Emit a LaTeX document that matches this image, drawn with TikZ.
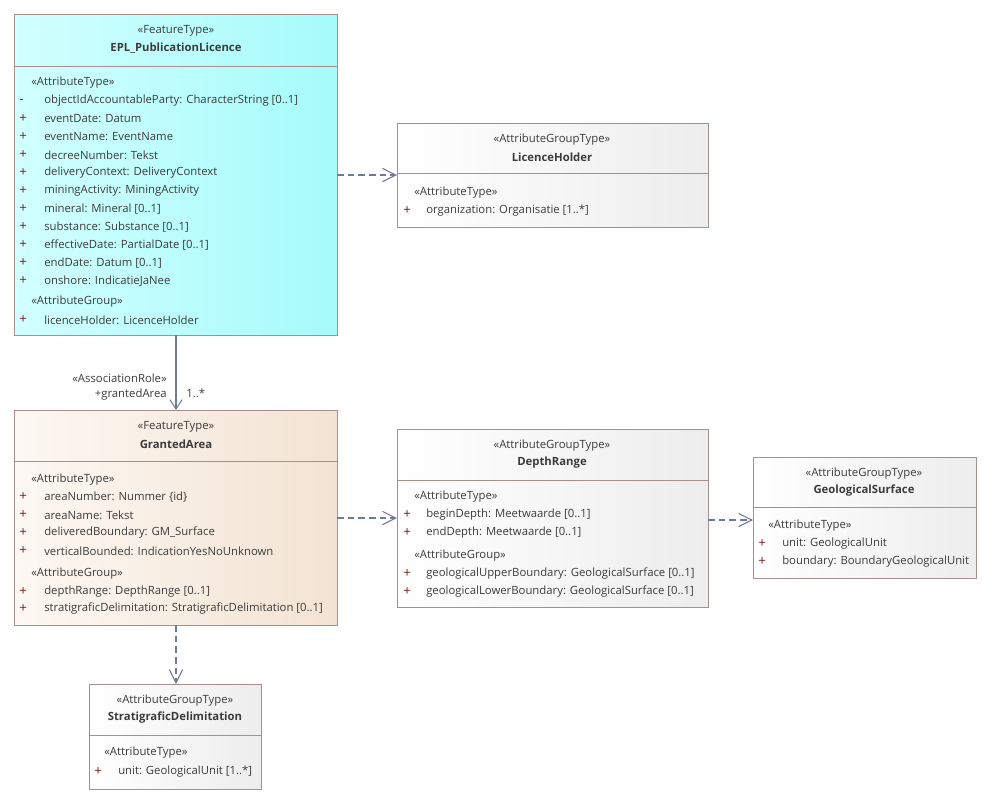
\documentclass[tikz,border=0pt]{standalone}
\usepackage{fontspec}
\setmainfont{Open Sans}
\usetikzlibrary{arrows.meta,positioning}
\definecolor{umlborder}{HTML}{A88E8E}
\definecolor{umltext}{HTML}{3C3C3C}
\definecolor{umlplus}{HTML}{7A1E1E}
\definecolor{umlline}{HTML}{707A96}
\definecolor{cyanA}{HTML}{D2FFFF}
\definecolor{cyanB}{HTML}{A6FBFB}
\definecolor{peachA}{HTML}{FDF8F3}
\definecolor{peachB}{HTML}{F3E3D3}
\tikzset{
  umlbox/.style={draw=umlborder,line width=0.7pt},
  stereo/.style={font=\fontsize{8.5}{10}\selectfont,text=umltext,inner sep=0pt},
  cname/.style={font=\fontsize{8.5}{10}\selectfont\bfseries,text=umltext,inner sep=0pt},
  attr/.style={font=\fontsize{8.5}{10}\selectfont,text=umltext,anchor=west,inner sep=0pt},
  vis/.style={font=\fontsize{10}{10}\selectfont,text=umlplus,anchor=west,inner sep=0pt},
  dep/.style={draw=umlline,line width=0.8pt,dashed,dash pattern=on 5pt off 3pt,-{Straight Barb[length=10pt,width=10pt]}},
  assoc/.style={draw=umlline,line width=0.8pt,-{Straight Barb[length=7pt,width=9pt]}}
}
\begin{document}
\begin{tikzpicture}[x=0.75pt,y=-0.75pt]
\useasboundingbox (0,0) rectangle (994,804);

% EPL_PublicationLicence
\shade[left color=cyanA,right color=cyanB] (14,14) rectangle (337,335);
\draw[umlbox] (14,14) rectangle (337,335);
\draw[umlbox] (14,66) -- (337,66);
\coordinate (epl-s) at (176,335);
\coordinate (epl-e) at (337,175);
\node[stereo] (epl-st) at (176,31) {«FeatureType»};
\node[cname] (epl-n) at (176,48) {EPL\_PublicationLicence};
\node[attr] at (31,83) {«AttributeType»};
\node[vis] at (19,101) {-};  \node[attr] at (44,101) {objectIdAccountableParty: CharacterString [0..1]};
\node[vis] at (19,119) {+};  \node[attr] at (44,119) {eventDate: Datum};
\node[vis] at (19,137) {+};  \node[attr] at (44,137) {eventName: EventName};
\node[vis] at (19,155) {+};  \node[attr] at (44,155) {decreeNumber: Tekst};
\node[vis] at (19,173) {+};  \node[attr] at (44,173) {deliveryContext: DeliveryContext};
\node[vis] at (19,191) {+};  \node[attr] at (44,191) {miningActivity: MiningActivity};
\node[vis] at (19,209) {+};  \node[attr] at (44,209) {mineral: Mineral [0..1]};
\node[vis] at (19,227) {+};  \node[attr] at (44,227) {substance: Substance [0..1]};
\node[vis] at (19,245) {+};  \node[attr] at (44,245) {effectiveDate: PartialDate [0..1]};
\node[vis] at (19,263) {+};  \node[attr] at (44,263) {endDate: Datum [0..1]};
\node[vis] at (19,281) {+};  \node[attr] at (44,281) {onshore: IndicatieJaNee};
\node[attr] at (31,302) {«AttributeGroup»};
\node[vis] at (19,320) {+};  \node[attr] at (44,320) {licenceHolder: LicenceHolder};

% LicenceHolder
\shade[left color=white,right color=black!7] (397,123) rectangle (708,227);
\draw[umlbox] (397,123) rectangle (708,227);
\draw[umlbox] (397,173) -- (708,173);
\coordinate (lh-w) at (397,175);
\node[stereo] at (552,140) {«AttributeGroupType»};
\node[cname] at (552,157) {LicenceHolder};
\node[attr] at (414,193) {«AttributeType»};
\node[vis] at (403,211) {+};  \node[attr] at (426,211) {organization: Organisatie [1..*]};

% GrantedArea
\shade[left color=peachA,right color=peachB] (14,410) rectangle (337,625);
\draw[umlbox] (14,410) rectangle (337,625);
\draw[umlbox] (14,461) -- (337,461);
\coordinate (ga-n) at (176,410);
\coordinate (ga-e) at (337,518);
\coordinate (ga-s) at (176,625);
\node[stereo] at (176,427) {«FeatureType»};
\node[cname] at (176,444) {GrantedArea};
\node[attr] at (31,480) {«AttributeType»};
\node[vis] at (19,497) {+};  \node[attr] at (44,497) {areaNumber: Nummer \{id\}};
\node[vis] at (19,515) {+};  \node[attr] at (44,515) {areaName: Tekst};
\node[vis] at (19,533) {+};  \node[attr] at (44,533) {deliveredBoundary: GM\_Surface};
\node[vis] at (19,551) {+};  \node[attr] at (44,551) {verticalBounded: IndicationYesNoUnknown};
\node[attr] at (31,574) {«AttributeGroup»};
\node[vis] at (19,592) {+};  \node[attr] at (44,592) {depthRange: DepthRange [0..1]};
\node[vis] at (19,609) {+};  \node[attr] at (44,609) {stratigraficDelimitation: StratigraficDelimitation [0..1]};

% DepthRange
\shade[left color=white,right color=black!7] (397,429) rectangle (708,607);
\draw[umlbox] (397,429) rectangle (708,607);
\draw[umlbox] (397,480) -- (708,480);
\coordinate (dr-w) at (397,518);
\coordinate (dr-e) at (708,520);
\node[stereo] at (552,446) {«AttributeGroupType»};
\node[cname] at (552,463) {DepthRange};
\node[attr] at (414,497) {«AttributeType»};
\node[vis] at (403,515) {+};  \node[attr] at (426,515) {beginDepth: Meetwaarde [0..1]};
\node[vis] at (403,533) {+};  \node[attr] at (426,533) {endDepth: Meetwaarde [0..1]};
\node[attr] at (414,556) {«AttributeGroup»};
\node[vis] at (403,574) {+};  \node[attr] at (426,574) {geologicalUpperBoundary: GeologicalSurface [0..1]};
\node[vis] at (403,592) {+};  \node[attr] at (426,592) {geologicalLowerBoundary: GeologicalSurface [0..1]};

% GeologicalSurface
\shade[left color=white,right color=black!7] (753,457) rectangle (976,578);
\draw[umlbox] (753,457) rectangle (976,578);
\draw[umlbox] (753,507) -- (976,507);
\coordinate (gs-w) at (753,520);
\node[stereo] at (864,474) {«AttributeGroupType»};
\node[cname] at (864,491) {GeologicalSurface};
\node[attr] at (768,526) {«AttributeType»};
\node[vis] at (758,544) {+};  \node[attr] at (782,544) {unit: GeologicalUnit};
\node[vis] at (758,562) {+};  \node[attr] at (782,562) {boundary: BoundaryGeologicalUnit};

% StratigraficDelimitation
\shade[left color=white,right color=black!7] (89,684) rectangle (261,789);
\draw[umlbox] (89,684) rectangle (261,789);
\draw[umlbox] (89,735) -- (261,735);
\coordinate (sd-n) at (176,684);
\node[stereo] at (175,701) {«AttributeGroupType»};
\node[cname] at (175,718) {StratigraficDelimitation};
\node[attr] at (104,753) {«AttributeType»};
\node[vis] at (94,772) {+};  \node[attr] at (118,772) {unit: GeologicalUnit [1..*]};

% connectors
\draw[dep] (epl-e) -- (lh-w);
\draw[dep] (ga-e) -- (dr-w);
\draw[dep] (dr-e) -- (gs-w);
\draw[dep] (ga-s) -- (sd-n);
\draw[assoc] (epl-s) -- (ga-n);
\node[attr,anchor=east] (ar-st) at (167,378) {«AssociationRole»};
\node[attr,anchor=east] (ar-n) at (167,395) {+grantedArea};
\node[attr] (ar-m) at (186,393) {1..*};
\end{tikzpicture}
\end{document}
